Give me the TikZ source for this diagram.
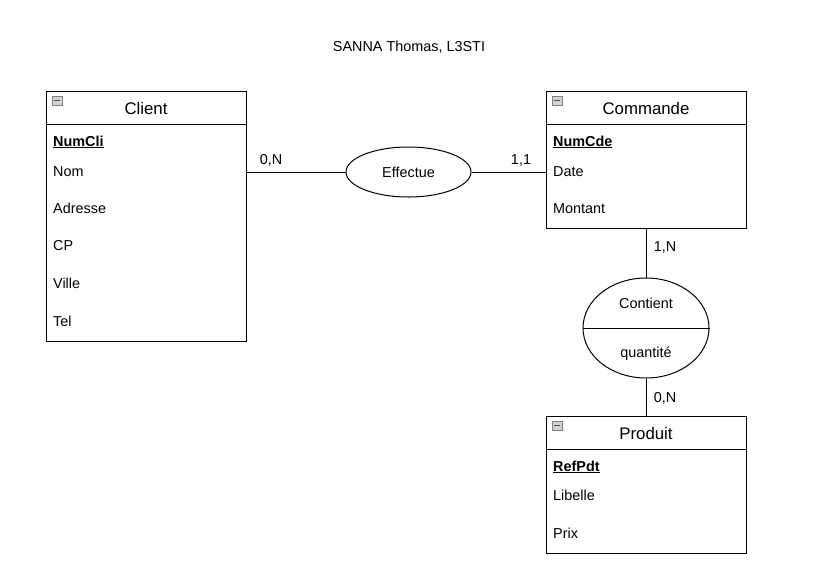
\documentclass[tikz,border=0pt]{standalone}
\usepackage{fontspec}
\setmainfont{Liberation Sans}
\usetikzlibrary{shapes}
\tikzstyle{ent}=[rectangle,draw=black,line width=1pt,minimum width=200pt,inner sep=0pt,anchor=north west]
\tikzstyle{hd}=[font=\fontsize{16.8}{18}\selectfont]
\tikzstyle{att}=[anchor=mid west,inner sep=0pt,font=\fontsize{14.4}{16}\selectfont]
\tikzstyle{key}=[anchor=mid west,inner sep=0pt,font=\fontsize{14.4}{16}\selectfont\bfseries]
\tikzstyle{rel}=[ellipse,draw=black,line width=1pt,inner sep=0pt]
\tikzstyle{card}=[inner sep=0pt,font=\fontsize{14.4}{16}\selectfont]
\tikzstyle{ico}=[fill=gray!35,draw=gray]

\begin{document}
\begin{tikzpicture}[x=1pt,y=-1pt]
\useasboundingbox (0,0) rectangle (833,587);
\node[card] (title) at (409,47) {SANNA Thomas, L3STI};
% entites
\node[ent,minimum height=250pt] (client) at (46,91) {}; \draw[line width=1pt] ([yshift=-33pt]client.north west) -- ([yshift=-33pt]client.north east);
\node[ent,minimum height=137pt] (cmd) at (546,91) {}; \draw[line width=1pt] ([yshift=-33pt]cmd.north west) -- ([yshift=-33pt]cmd.north east);
\node[ent,minimum height=137pt] (pdt) at (546,416) {}; \draw[line width=1pt] ([yshift=-33pt]pdt.north west) -- ([yshift=-33pt]pdt.north east);
\filldraw[ico] (52,96) rectangle (62,105); \draw[line width=1.2pt,black!70] (54,100.5) -- (60,100.5);
\filldraw[ico] (552,96) rectangle (562,105); \draw[line width=1.2pt,black!70] (554,100.5) -- (560,100.5);
\filldraw[ico] (552,421) rectangle (562,430); \draw[line width=1.2pt,black!70] (554,425.5) -- (560,425.5);
\node[hd] (clientT) at (146,108) {Client};
\node[hd] (cmdT) at (646,108) {Commande};
\node[hd] (pdtT) at (646,433) {Produit};
% attributs
\node[key] (numcli) at (53,143.5) {\underline{NumCli}};
\node[att] (nom) at (53,174) {Nom};
\node[att] (adr) at (53,211) {Adresse};
\node[att] (cp) at (53,248) {CP};
\node[att] (ville) at (53,286) {Ville};
\node[att] (tel) at (53,324) {Tel};
\node[key] (numcde) at (553,143.5) {\underline{NumCde}};
\node[att] (date) at (553,174) {Date};
\node[att] (mont) at (553,211) {Montant};
\node[key] (refpdt) at (553,468.5) {\underline{RefPdt}};
\node[att] (lib) at (553,498) {Libelle};
\node[att] (prix) at (553,536) {Prix};
% associations
\node[rel,minimum width=125pt,minimum height=50pt] (eff) at (408.5,172) {};
\node[card] (effT) at (408.5,172) {Effectue};
\node[rel,minimum width=126pt,minimum height=100pt] (cont) at (646,328) {};
\draw[line width=1pt] (cont.west) -- (cont.east);
\node[card] (contT) at (646,303) {Contient};
\node[card] (qte) at (646,354) {quantité};
% liens
\draw[line width=1pt] (eff.west) -- (eff.west -| client.east);
\draw[line width=1pt] (eff.east) -- (eff.east -| cmd.west);
\draw[line width=1pt] (cont.north) -- (cont.north |- cmd.south);
\draw[line width=1pt] (cont.south) -- (cont.south |- pdt.north);
\node[card] (c1) at (271,160) {0,N};
\node[card] (c2) at (521,160) {1,1};
\node[card] (c3) at (665,247) {1,N};
\node[card] (c4) at (665,398) {0,N};
\end{tikzpicture}
\end{document}
